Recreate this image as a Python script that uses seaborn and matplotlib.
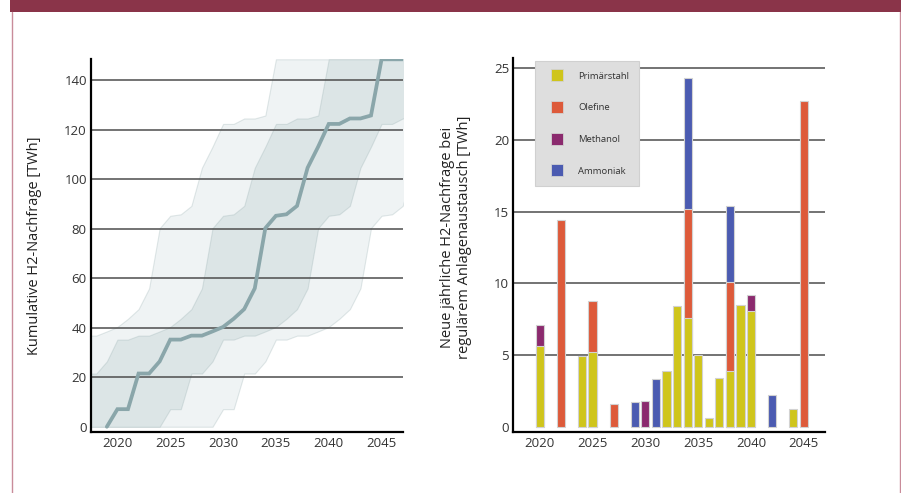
import numpy as np
import pandas as pd
import matplotlib
matplotlib.use("Agg")
import matplotlib.pyplot as plt
import seaborn as sns
from matplotlib.lines import Line2D
from matplotlib.patches import Rectangle

# New annual H2 demand per sector (TWh), by year of plant replacement
ps_years = [2020, 2024, 2025, 2032, 2033, 2034, 2035, 2036, 2037, 2038, 2039, 2040, 2044]
ps_vals = [5.6, 4.9, 5.2, 3.9, 8.4, 7.6, 5.0, 0.6, 3.4, 3.9, 8.5, 8.1, 1.2]
ol_years = [2022, 2025, 2027, 2034, 2038, 2045]
ol_vals = [14.4, 3.6, 1.6, 7.6, 6.2, 22.7]
me_years = [2020, 2030, 2040]
me_vals = [1.5, 1.8, 1.1]
am_years = [2029, 2031, 2034, 2038, 2042]
am_vals = [1.7, 3.3, 9.1, 5.3, 2.2]

sectors = ["Primärstahl", "Olefine", "Methanol", "Ammoniak"]
sector_colors = ["#cfc51b", "#dd5a3a", "#8b2a6e", "#4b5bb1"]

left_yticks = [0, 20, 40, 60, 80, 100, 120, 140]
right_yticks = [0, 5, 10, 15, 20, 25]
xticks = [2020, 2025, 2030, 2035, 2040, 2045]
line_years = list(range(2019, 2048))

# long table of annual demand
frames = []
for name, yrs, vals in zip(sectors,
                           [ps_years, ol_years, me_years, am_years],
                           [ps_vals, ol_vals, me_vals, am_vals]):
    frames.append(pd.DataFrame({"year": yrs, "sector": name, "value": vals}))
annual = pd.concat(frames, ignore_index=True)

# stacked tops: sum of this sector and all sectors below it in the stack
wide = annual.pivot_table(index="year", columns="sector", values="value",
                          aggfunc="sum").reindex(columns=sectors).fillna(0)
tops = wide.cumsum(axis=1)
stack = tops.reset_index().melt(id_vars="year", var_name="sector", value_name="top")
stack = stack.merge(annual[["year", "sector"]], on=["year", "sector"])

# cumulative demand path
yearly_total = wide.sum(axis=1).reindex(line_years, fill_value=0)
cum = pd.DataFrame({"year": line_years, "cum": np.cumsum(yearly_total.values)})
cum_top = cum["cum"].max()

sns.set_style("white")
plt.rcParams["font.family"] = ["Open Sans", "DejaVu Sans"]

W, H = 901, 493
fig = plt.figure(figsize=(W / 100, H / 100), dpi=100)
fig.patch.set_facecolor("white")

def px_axes(x0, y0, x1, y1):
    return fig.add_axes([x0 / W, 1 - y1 / H, (x1 - x0) / W, (y1 - y0) / H])

ax1 = px_axes(91, 59.3, 402.7, 431.7)
ax2 = px_axes(513.3, 58.3, 825, 431.7)

# ---- left: cumulative demand with uncertainty bands ----
cy = cum["cum"].values
cx = cum["year"].values
ax1.fill_betweenx(cy, cx - 10, cx + 10, facecolor="#eff3f4",
                  edgecolor=(0.55, 0.65, 0.66, 0.25), linewidth=0.8, zorder=1)
ax1.fill_betweenx(cy, cx - 5, cx + 5, facecolor="#dce5e6",
                  edgecolor=(0.55, 0.65, 0.66, 0.25), linewidth=0.8, zorder=1.1)
for t in left_yticks[1:]:
    ax1.axhline(t, color="#4d4d4d", lw=1.1, zorder=2)
sns.lineplot(data=cum, x="year", y="cum", ax=ax1, color="#8aa6aa",
             lw=2.7, zorder=3, solid_joinstyle="miter")
ax1.set_xlim(2017.5, 2047)
ax1.set_ylim(-2, cum_top)
ax1.set_yticks(left_yticks)
ax1.set_xticks(xticks)
ax1.set_xlabel("")
ax1.set_ylabel("Kumulative H2-Nachfrage [TWh]", fontsize=10.5, color="#222222",
               va="center")
ax1.yaxis.set_label_coords(-0.18, 0.5)

# ---- right: annual demand, stacked by sector ----
for t in right_yticks[1:]:
    ax2.axhline(t, color="#4d4d4d", lw=1.1, zorder=0.5)
sns.barplot(data=stack, x="year", y="top", hue="sector",
            hue_order=sectors[::-1], palette=sector_colors[::-1],
            dodge=False, native_scale=True, width=0.78, saturation=1,
            edgecolor="#d2d2d2", linewidth=0.8, legend=False, ax=ax2, zorder=2)
ax2.set_xlim(2017.5, 2047)
ax2.set_ylim(-0.35, 25.7)
ax2.set_yticks(right_yticks)
ax2.set_xticks(xticks)
ax2.set_xlabel("")
ax2.set_ylabel("Neue jährliche H2-Nachfrage bei\nregulärem Anlagenaustausch [TWh]",
               fontsize=10.5, color="#222222", va="center", linespacing=1.2)
ax2.yaxis.set_label_coords(-0.185, 0.52)

handles = [Line2D([0], [0], marker="s", linestyle="none", markersize=8.3,
                  markerfacecolor=c, markeredgecolor="#d2d2d2", markeredgewidth=0.6)
           for c in sector_colors]
leg = ax2.legend(handles, sectors, loc="upper left", bbox_to_anchor=(0.0696, 0.992),
                 borderaxespad=0, fontsize=6.8, frameon=True, fancybox=False,
                 framealpha=1, facecolor="#dedede", edgecolor="#d0d0d0",
                 handlelength=2.46, handletextpad=1.0, borderpad=1.1,
                 labelspacing=2.4)
leg.get_frame().set_linewidth(0.8)
for txt in leg.get_texts():
    txt.set_color("#333333")

for ax in (ax1, ax2):
    ax.set_facecolor("none")
    sns.despine(ax=ax)
    for s in ("left", "bottom"):
        ax.spines[s].set_color("black")
        ax.spines[s].set_linewidth(1.6)
    ax.tick_params(axis="both", length=0, labelsize=9.5, labelcolor="#333333")
    ax.tick_params(axis="y", pad=3)
    ax.tick_params(axis="x", pad=4)

# page frame: banner and thin side rules
fig.add_artist(Rectangle((10 / W, 1 - 12 / H), (W - 10) / W, 12 / H,
                         transform=fig.transFigure, facecolor="#8a3449",
                         edgecolor="none"))
for xp in (11.5, 899.5):
    fig.add_artist(Line2D([xp / W, xp / W], [0, 1 - 12 / H],
                          transform=fig.transFigure, color="#c98c9a", lw=1.0))

fig.savefig("out.png", dpi=100)
